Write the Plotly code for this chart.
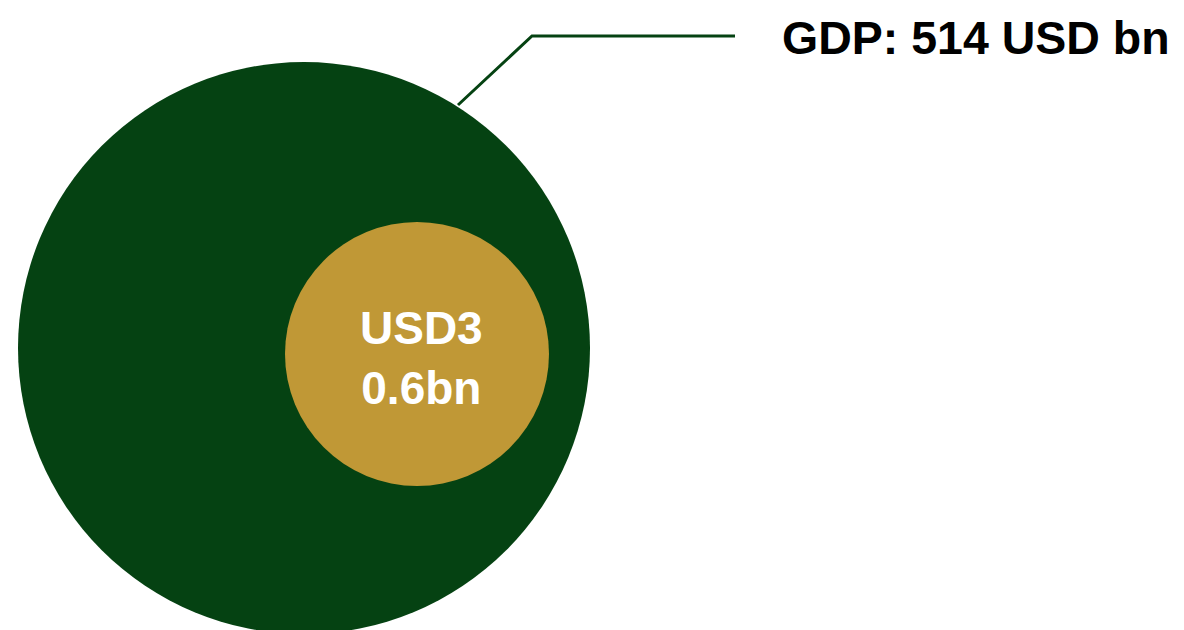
import plotly.graph_objects as go

# Data
labels = ["GDP", "Inflow"]
values = [514, 30.6]
gdp_label = "GDP: 514 USD bn"
inner_label = "USD3<br>0.6bn"

GREEN = "#054212"
GOLD = "#C09836"

W, H = 1184, 630

fig = go.Figure()
fig.add_trace(go.Scatter(x=[0, W], y=[0, H], mode="markers",
                         marker=dict(opacity=0), hoverinfo="skip", showlegend=False))

# outer circle (GDP)
fig.add_shape(type="circle", xref="x", yref="y", x0=18, x1=590, y0=62, y1=634,
              fillcolor=GREEN, line=dict(width=0), layer="below")
# inner circle
fig.add_shape(type="circle", xref="x", yref="y", x0=285, x1=549, y0=222, y1=486,
              fillcolor=GOLD, line=dict(width=0), layer="below")
# leader line
fig.add_shape(type="path", xref="x", yref="y", path="M 458 105 L 532 36 L 735 36",
              line=dict(color=GREEN, width=3))

fig.add_annotation(x=1172, y=38, xref="x", yref="y", text=f"<b>{gdp_label}</b>",
                   showarrow=False, xanchor="right", yanchor="middle",
                   font=dict(family="Liberation Sans", size=46.5, color="#000000"))
fig.add_annotation(x=421, y=358, xref="x", yref="y", text=f"<b>{inner_label}</b>",
                   showarrow=False, xanchor="center", yanchor="middle",
                   font=dict(family="Liberation Sans", size=46, color="#FFFFFF"))

fig.update_layout(width=W, height=H, margin=dict(l=0, r=0, t=0, b=0),
                  paper_bgcolor="white", plot_bgcolor="white",
                  xaxis=dict(range=[0, W], visible=False, fixedrange=True),
                  yaxis=dict(range=[H, 0], visible=False, fixedrange=True),
                  showlegend=False)

fig.write_html("out.html", config={"displayModeBar": False})
